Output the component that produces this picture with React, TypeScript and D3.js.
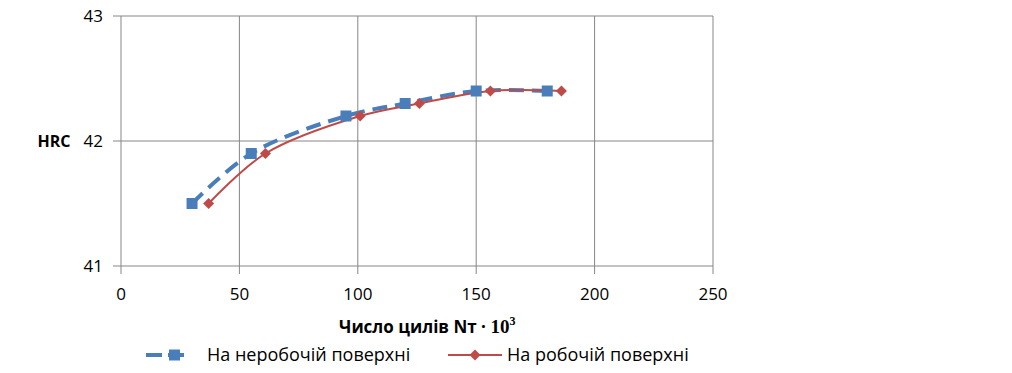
import React from 'react';
import * as d3 from 'd3';

// Series
const cyclesNonWorking = [30, 55, 95, 120, 150, 180];
const hrcNonWorking = [41.5, 41.9, 42.2, 42.3, 42.4, 42.4];
const cyclesWorking = [37, 61, 101, 126, 156, 186];
const hrcWorking = [41.5, 41.9, 42.2, 42.3, 42.4, 42.4];

const xTicks = [0, 50, 100, 150, 200, 250];
const yTicks = [41, 42, 43];
const seriesNames = ['На неробочій поверхні', 'На робочій поверхні'];

const BLUE = '#4a7ebb';
const RED = '#be4b48';
const GRID = '#868686';
const FONT = '"Open Sans", "Noto Sans", sans-serif';

const App = () => {
  const width = 1012;
  const height = 373;
  const margin = { top: 16, right: 299, bottom: 107, left: 121 };

  const x = d3.scaleLinear().domain([0, 250]).range([margin.left, width - margin.right]);
  const y = d3.scaleLinear().domain([41, 43]).range([height - margin.bottom, margin.top]);

  const line = d3.line<[number, number]>()
    .x(d => x(d[0]))
    .y(d => y(d[1]))
    .curve(d3.curveCatmullRom.alpha(0.5));

  const blue: [number, number][] = cyclesNonWorking.map((c, i) => [c, hrcNonWorking[i]]);
  const red: [number, number][] = cyclesWorking.map((c, i) => [c, hrcWorking[i]]);

  const x0 = x(0);
  const y0 = y(41);

  return (
    <svg width={width} height={height} style={{ position: 'absolute', left: 0, top: 0 }}>
      <rect width={width} height={height} fill="#fff" />

      {/* grid */}
      {yTicks.map(t => (
        <line key={'gy' + t} x1={x0 - 8} x2={x(250)} y1={y(t)} y2={y(t)} stroke={GRID} strokeWidth={1} />
      ))}
      {xTicks.map(t => (
        <line key={'gx' + t} x1={x(t)} x2={x(t)} y1={y(43)} y2={y0 + 8} stroke={GRID} strokeWidth={1} />
      ))}

      {/* tick labels */}
      {yTicks.map(t => (
        <text key={'ly' + t} x={103} y={y(t)} dy="0.35em" textAnchor="end" fontFamily={FONT} fontSize={17} fill="#000">
          {t}
        </text>
      ))}
      {xTicks.map(t => (
        <text key={'lx' + t} x={x(t)} y={294} dy="0.35em" textAnchor="middle" fontFamily={FONT} fontSize={17} fill="#000">
          {t}
        </text>
      ))}

      {/* axis titles */}
      <text x={54} y={y(42)} dy="0.35em" textAnchor="middle" fontFamily={FONT} fontSize={16} fontWeight="bold">HRC</text>
      <text x={339} y={333} fontFamily={FONT} fontSize={17} fontWeight="bold">
        Число цилів Nт ·{' '}
        <tspan fontFamily='"Liberation Serif", serif' fontSize={19}>10</tspan>
        <tspan fontFamily='"Liberation Serif", serif' fontSize={12} dy={-8}>3</tspan>
      </text>

      {/* series */}
      <path d={line(blue) ?? ''} fill="none" stroke={BLUE} strokeWidth={4} strokeDasharray="15 8" />
      <path d={line(red) ?? ''} fill="none" stroke={RED} strokeWidth={2} />
      {blue.map((d, i) => (
        <rect key={'b' + i} x={x(d[0]) - 5.5} y={y(d[1]) - 5.5} width={11} height={11} fill={BLUE} />
      ))}
      {red.map((d, i) => (
        <path key={'r' + i} d={`M${x(d[0])},${y(d[1]) - 5.5}l5.5,5.5l-5.5,5.5l-5.5,-5.5z`} fill={RED} />
      ))}

      {/* legend */}
      <g>
        <line x1={146} x2={190} y1={355} y2={355} stroke={BLUE} strokeWidth={4} strokeDasharray="16 6" />
        <rect x={169} y={349.5} width={11} height={11} fill={BLUE} />
        <text x={207} y={361} fontFamily={FONT} fontSize={18}>{seriesNames[0]}</text>
        <line x1={448} x2={502} y1={355} y2={355} stroke={RED} strokeWidth={2} />
        <path d="M475,349.5l5.5,5.5l-5.5,5.5l-5.5,-5.5z" fill={RED} />
        <text x={507} y={361} fontFamily={FONT} fontSize={18}>{seriesNames[1]}</text>
      </g>
    </svg>
  );
};

export default App;
